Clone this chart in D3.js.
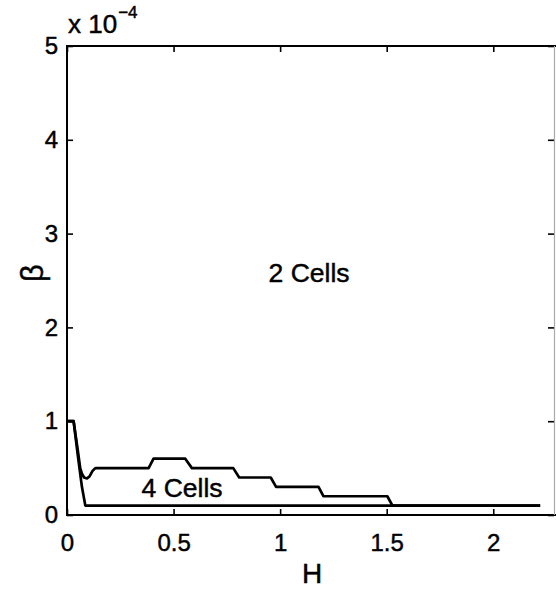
<!DOCTYPE html>
<html>
<head>
<meta charset="utf-8">
<script src="https://cdn.jsdelivr.net/npm/d3@7"></script>
<style>
  html, body { margin: 0; padding: 0; background: #fff; }
  svg { display: block; }
  text { font-family: "Liberation Sans", Arial, Helvetica, sans-serif; fill: #000; stroke: #000; stroke-width: 0.45px; }
</style>
</head>
<body>
<svg id="chart" width="556" height="589"></svg>
<script>
// Boundary curves, beta in units of 1e-4
const upperH    = [0, 0.031, 0.05, 0.062, 0.07, 0.08, 0.094, 0.105, 0.12, 0.133, 0.383, 0.406, 0.555, 0.586, 0.78, 0.808, 0.956, 0.981, 1.18, 1.203, 1.503, 1.527, 2.22];
const upperBeta = [1, 1, 0.7, 0.5, 0.44, 0.40, 0.39, 0.41, 0.47, 0.5, 0.5, 0.6, 0.6, 0.5, 0.5, 0.4, 0.4, 0.3, 0.3, 0.2, 0.2, 0.1, 0.1];
const lowerH    = [0, 0.031, 0.05, 0.07, 0.086, 2.22];
const lowerBeta = [1, 1, 0.65, 0.3, 0.1, 0.1];

const xTicks = [0, 0.5, 1, 1.5, 2];
const yTicks = [0, 1, 2, 3, 4, 5];
const regionLabels = [
  { text: "2 Cells", h: 1.136, b: 2.48 },
  { text: "4 Cells", h: 0.54, b: 0.195 }
];

const svg = d3.select("#chart");
const plotL = 67, plotR = 554, plotT = 46, plotB = 515;

const x = d3.scaleLinear().domain([0, 2.285]).range([plotL, plotR]);
const y = d3.scaleLinear().domain([0, 5]).range([plotB, plotT]);

const g = svg.append("g");

// Axes with inward ticks on all four sides
function styleAxis(sel) {
  sel.select(".domain").remove();
  sel.selectAll(".tick line").attr("stroke", "#000").attr("stroke-width", 1.6);
  sel.selectAll(".tick text").style("font-size", "24px");
}

g.append("g").attr("transform", `translate(0,${plotB})`)
  .call(d3.axisBottom(x).tickValues(xTicks).tickFormat(d3.format("")).tickSizeInner(-6).tickSizeOuter(0).tickPadding(18))
  .call(styleAxis)
  .selectAll(".tick text").attr("dy", "0.75em");

g.append("g").attr("transform", `translate(0,${plotT})`)
  .call(d3.axisTop(x).tickValues(xTicks).tickFormat("").tickSizeInner(-6).tickSizeOuter(0))
  .call(styleAxis);

g.append("g").attr("transform", `translate(${plotL},0)`)
  .call(d3.axisLeft(y).tickValues(yTicks).tickFormat(d3.format("d")).tickSizeInner(-6).tickSizeOuter(0).tickPadding(9))
  .call(styleAxis);

g.append("g").attr("transform", `translate(${plotR},0)`)
  .call(d3.axisRight(y).tickValues(yTicks).tickFormat("").tickSizeInner(-6).tickSizeOuter(0))
  .call(styleAxis);

// Box: left, top and bottom spines solid, right spine light
g.append("path")
  .attr("d", `M${plotR + 2},${plotT}H${plotL}V${plotB}H${plotR + 2}`)
  .attr("fill", "none").attr("stroke", "#000").attr("stroke-width", 2);
g.append("line")
  .attr("x1", plotR + 0.5).attr("x2", plotR + 0.5).attr("y1", plotT).attr("y2", plotB)
  .attr("stroke", "#aaa").attr("stroke-width", 1.2);

// Curves
const line = d3.line().x(d => x(d[0])).y(d => y(d[1]));
const curves = [
  d3.zip(lowerH, lowerBeta),
  d3.zip(upperH, upperBeta)
];
g.selectAll("path.curve").data(curves).join("path")
  .attr("class", "curve")
  .attr("d", line)
  .attr("fill", "none")
  .attr("stroke", "#000")
  .attr("stroke-width", 2.7)
  .attr("stroke-linejoin", "round");

// Region labels
g.selectAll("text.region").data(regionLabels).join("text")
  .attr("class", "region")
  .attr("x", d => x(d.h)).attr("y", d => y(d.b))
  .attr("text-anchor", "middle")
  .style("font-size", "26.5px")
  .text(d => d.text);

// Exponent multiplier
const mult = svg.append("text").attr("x", 68).attr("y", 33).style("font-size", "26px");
mult.append("tspan").text("x 10");
mult.append("tspan").attr("dx", 1).attr("dy", -15).style("font-size", "17px").text("−4");

// Axis titles
svg.append("text")
  .attr("x", 312).attr("y", 583)
  .attr("text-anchor", "middle")
  .style("font-size", "28px")
  .text("H");

svg.append("text")
  .attr("transform", `translate(43,273) rotate(-90)`)
  .attr("text-anchor", "middle")
  .style("font-size", "31px")
  .text("β");
</script>
</body>
</html>
